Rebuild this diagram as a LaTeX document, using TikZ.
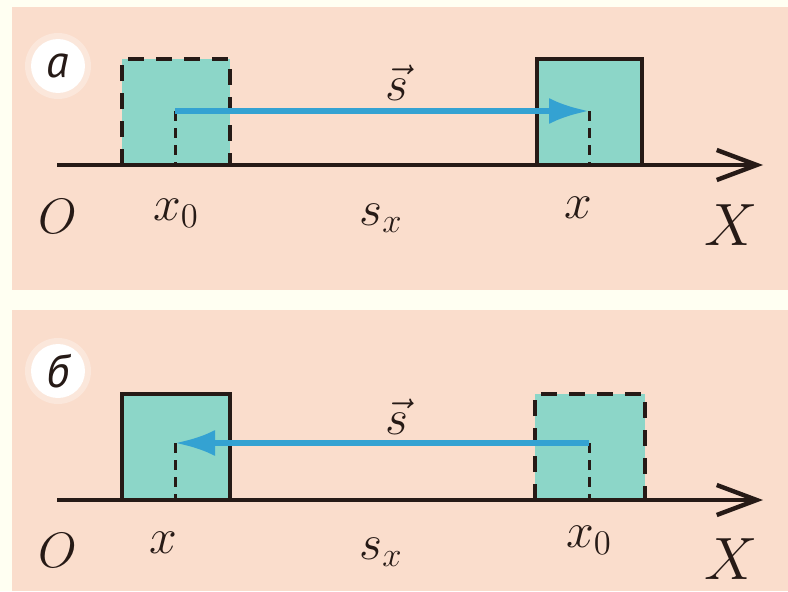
\documentclass[tikz,border=0pt]{standalone}
\usepackage{fontspec}
\newfontfamily\cyrfont{PT Sans}
\usetikzlibrary{arrows.meta}
\definecolor{paper}{RGB}{255,255,242}
\definecolor{pnl}{RGB}{250,221,204}
\definecolor{body}{RGB}{140,214,200}
\definecolor{vecc}{RGB}{52,162,210}
\definecolor{ink}{RGB}{38,26,22}

\begin{document}
\begin{tikzpicture}[x=0.5pt,y=0.5pt,
  lbl/.style={font=\huge,text=ink,anchor=base,inner sep=0pt,scale=1.2,transform shape},
  tag/.style={circle,fill=white,minimum size=27pt,inner sep=0pt,
    font=\fontsize{23}{26}\selectfont\cyrfont\itshape,text=ink},
  solidbox/.style={draw=ink,fill=body,line width=2.2pt},
  ghostbox/.style={draw=ink,fill=body,line width=2.2pt,dash pattern=on 8pt off 6pt},
  dropline/.style={draw=ink,line width=1.5pt,dash pattern=on 5pt off 3.5pt},
  axis/.style={draw=ink,line width=2.2pt,-{Straight Barb[length=20pt,width=15pt]}},
  vec/.style={draw=vecc,line width=3pt,-{Latex[length=20pt,width=13pt]}}]
  \useasboundingbox (0,0) rectangle (788,591);
  \fill[paper] (0,0) rectangle (788,591);
  \fill[pnl] (12,301) rectangle (788,584);
  \fill[pnl] (12,0) rectangle (788,281);
  % panel labels
  \foreach \y in {525,220}
    {\fill[white,opacity=0.3] (58,\y) circle (33);}
  \node[tag] (ta) at (58,525) {а};
  \node[tag] (tb) at (58,220) {б};
  % panel a
  \draw[ghostbox] (122,426) rectangle (230,532);
  \draw[solidbox] (537,426) rectangle (642,532);
  \coordinate (pa0) at (175,480);
  \coordinate (pa1) at (589,480);
  \coordinate (fa0) at (175,426);
  \coordinate (fa1) at (589,426);
  \draw[dropline] (pa0) -- (fa0);
  \draw[dropline] (pa1) -- (fa1);
  \draw[vec] (pa0) -- (pa1);
  \coordinate (oa) at (57,426);
  \coordinate (ea) at (763,426);
  \draw[axis] (oa) -- (ea);
  \node[lbl] (sa) at (397,491) {$\vec{s}$};
  \node[lbl] (Oa) at (58,358) {$O$};
  \node[lbl] (x0a) at (176,371) {$x_0$};
  \node[lbl] (sxa) at (381,366) {$s_x$};
  \node[lbl] (xa) at (578,373) {$x$};
  \node[lbl,scale=1.2] (Xa) at (731,346) {$X$};
  % panel b
  \draw[solidbox] (122,91) rectangle (230,197);
  \draw[ghostbox] (535,91) rectangle (645,197);
  \coordinate (pb0) at (589,148);
  \coordinate (pb1) at (175,148);
  \coordinate (fb0) at (589,91);
  \coordinate (fb1) at (175,91);
  \draw[dropline] (pb0) -- (fb0);
  \draw[dropline] (pb1) -- (fb1);
  \draw[vec] (pb0) -- (pb1);
  \coordinate (ob) at (57,91);
  \coordinate (eb) at (763,91);
  \draw[axis] (ob) -- (eb);
  \node[lbl] (sb) at (397,157) {$\vec{s}$};
  \node[lbl] (Ob) at (58,24) {$O$};
  \node[lbl] (xb) at (163,38) {$x$};
  \node[lbl] (sxb) at (381,32) {$s_x$};
  \node[lbl] (x0b) at (589,44) {$x_0$};
  \node[lbl,scale=1.2] (Xb) at (731,12) {$X$};
\end{tikzpicture}
\end{document}
